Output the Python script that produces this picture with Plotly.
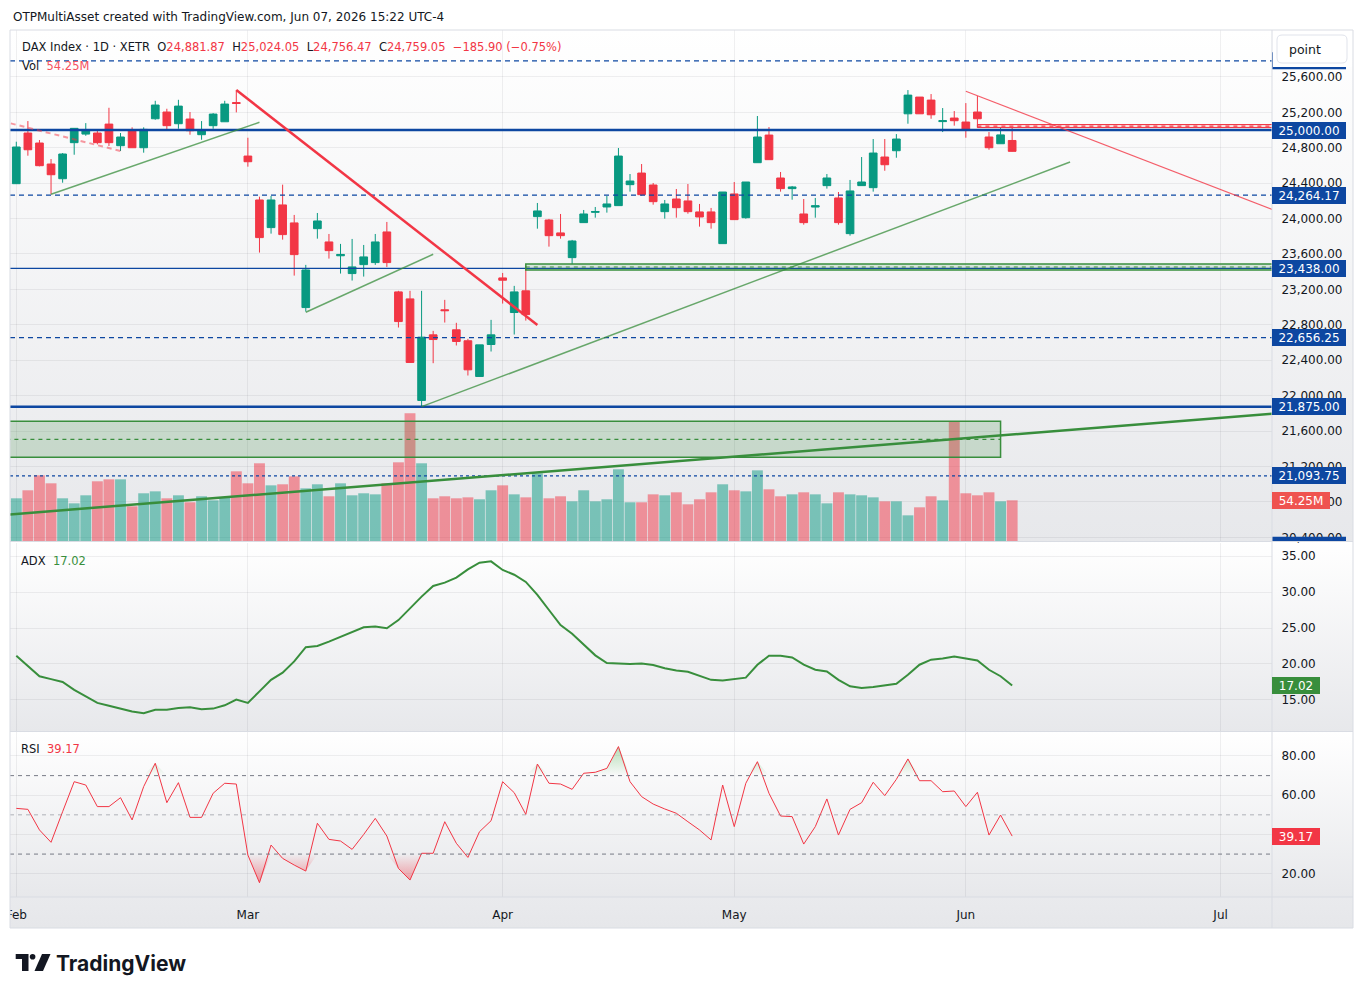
import base64
import numpy as np
import pandas as pd
import plotly.graph_objects as go

# ---------------- data ----------------
holidays = ["2026-04-03", "2026-04-06", "2026-05-01"]
calendar = [d.strftime("%Y-%m-%d") for d in pd.bdate_range("2026-02-02", "2026-07-31")
            if d.strftime("%Y-%m-%d") not in holidays]

open_ = [24394, 24966, 24853, 24616, 24450, 24857, 24954, 24966, 25067, 24823,
         25000, 24800, 25127, 25203, 25071, 25124, 24947, 25049, 25093, 25310,
         24706, 24210, 23898, 24154, 23951, 22995, 23886, 23736, 23580, 23379,
         23480, 23503, 23849, 23172, 23093, 21946, 22687, 22970, 22744, 22620,
         22217, 22578, 23330, 22939, 23184, 24022, 23984, 23838, 23559, 23954,
         24070, 24131, 24146, 24383, 24514, 24379, 24078, 24221, 24199, 24075,
         24075, 23717, 24278, 24010, 24631, 24943, 24458, 24338, 24052, 24130,
         24372, 24233, 23830, 24372, 24349, 24695, 24766, 25183, 25372, 25338,
         25095, 25135, 25090, 25203, 24921, 24845, 24881.87]
high = [24868, 25101, 24887, 24672, 24740, 25020, 25078, 25011, 25251, 24966,
        25030, 25030, 25330, 25240, 25341, 25203, 25101, 25191, 25330, 25450,
        24913, 24247, 24255, 24383, 24041, 23477, 24063, 23826, 23714, 23770,
        23702, 23826, 23962, 23184, 23184, 23184, 22732, 23082, 22823, 22642,
        22574, 22856, 23386, 23240, 23465, 24176, 23996, 24052, 23759, 24097,
        24131, 24255, 24797, 24503, 24616, 24402, 24210, 24334, 24390, 24165,
        24120, 24300, 24413, 24413, 25158, 25033, 24526, 24368, 24221, 24233,
        24503, 24300, 24436, 24695, 24898, 24898, 24954, 25451, 25372, 25406,
        25248, 25214, 25304, 25383, 24977, 25022, 25024.05]
low = [24390, 24710, 24590, 24274, 24405, 24721, 24935, 24838, 24819, 24763,
       24800, 24744, 25116, 24992, 25014, 24947, 24890, 25014, 25093, 25199,
       24586, 23616, 23830, 23762, 23356, 22950, 23773, 23548, 23379, 23300,
       23345, 23477, 23454, 22770, 22375, 21880, 22367, 22826, 22567, 22228,
       22217, 22499, 23040, 22691, 22848, 23886, 23683, 23773, 23485, 23954,
       24010, 24067, 24146, 24304, 24258, 24157, 23999, 24010, 24055, 23909,
       23886, 23717, 23988, 23999, 24631, 24665, 24304, 24213, 23931, 24010,
       24338, 23931, 23807, 24372, 24304, 24540, 24687, 25071, 25183, 25127,
       24977, 25049, 24913, 25026, 24777, 24845, 24756.47]
close = [24808, 24777, 24597, 24495, 24729, 25019, 25000, 24857, 24857, 24921,
         24800, 25007, 25282, 25049, 25270, 24992, 24988, 25180, 25293, 25300,
         24642, 23785, 24210, 23819, 23593, 23420, 23973, 23638, 23595, 23454,
         23567, 23736, 23503, 22837, 22375, 22661, 22634, 22960, 22612, 22292,
         22574, 22687, 23304, 23172, 22916, 24086, 23807, 23807, 23747, 24052,
         24080, 24165, 24706, 24424, 24270, 24191, 24165, 24123, 24078, 24018,
         23954, 24300, 23988, 24413, 24921, 24665, 24338, 24357, 23954, 24145,
         24458, 23954, 24312, 24413, 24740, 24608, 24898, 25394, 25183, 25172,
         25105, 25105, 25003, 25127, 24800, 24944.95, 24759.05]
volume_m = [56.9, 67.6, 87.6, 76.9, 56.9, 50.2, 60.9, 79.6, 82.2, 82.2,
            46.2, 63.6, 66.2, 56.9, 60.9, 51.6, 59.6, 54.2, 58.2, 92.9,
            76.9, 103.6, 74.2, 75.6, 86.2, 70.2, 75.6, 59.6, 76.9, 60.9,
            63.6, 62.2, 76.9, 104.9, 170.2, 103.6, 56.9, 59.6, 56.9, 58.2,
            55.6, 67.6, 74.2, 62.2, 58.2, 90.2, 56.9, 59.6, 52.9, 67.6,
            52.9, 55.6, 95.6, 51.6, 51.6, 62.2, 60.9, 64.9, 48.9, 55.6,
            64.9, 75.6, 67.6, 66.2, 94.2, 68.9, 59.6, 62.2, 64.9, 62.2,
            50.2, 64.9, 62.2, 60.9, 58.2, 52.9, 52.9, 34.2, 44.9, 59.6,
            54.2, 159.6, 63.6, 60.9, 64.9, 52.9, 54.25]
adx = [21.14, 19.67, 18.3, 17.9, 17.5, 16.4, 15.5, 14.6, 14.2, 13.8,
       13.4, 13.15, 13.65, 13.65, 13.9, 13.98, 13.7, 13.8, 14.26, 15.05,
       14.6, 16.2, 17.8, 18.8, 20.36, 22.34, 22.5, 23.1, 23.8, 24.5,
       25.1, 25.2, 24.97, 26.1, 27.75, 29.36, 30.84, 31.3, 32.0, 33.15,
       34.08, 34.26, 33.06, 32.4, 31.4, 29.6, 27.5, 25.4, 24.2, 22.7,
       21.2, 20.13, 20.03, 19.99, 20.08, 19.85, 19.4, 19.1, 18.93, 18.37,
       17.8, 17.7, 17.86, 18.1, 19.9, 21.14, 21.14, 20.9, 19.9, 19.2,
       18.97, 17.8, 16.9, 16.66, 16.8, 17.03, 17.26, 18.5, 19.9, 20.6,
       20.77, 21.05, 20.73, 20.5, 19.2, 18.3, 17.02]
rsi = [53.3, 52.8, 42.3, 36.0, 51.6, 66.9, 65.2, 54.2, 54.2, 58.75,
       47.4, 64.4, 76.3, 56.2, 66.4, 48.7, 48.7, 61.0, 66.1, 65.7,
       29.5, 15.4, 34.6, 27.8, 24.4, 21.35, 45.7, 37.5, 36.65, 32.4,
       40.0, 48.2, 39.2, 22.7, 16.76, 30.4, 30.4, 46.5, 35.5, 28.3,
       41.4, 47.0, 66.9, 61.3, 50.25, 75.9, 66.1, 65.7, 63.0, 71.2,
       71.7, 73.7, 84.8, 66.9, 59.3, 55.5, 53.0, 50.8, 46.5, 42.3,
       37.2, 65.2, 44.0, 66.1, 77.1, 61.0, 49.4, 49.1, 35.1, 44.0,
       58.1, 39.7, 52.8, 56.2, 66.6, 59.8, 68.1, 78.5, 67.4, 67.4,
       61.8, 62.15, 54.2, 61.5, 39.7, 49.9, 39.17]

price_ticks = list(range(20400, 25601, 400))
adx_ticks = [15, 20, 25, 30, 35]
rsi_ticks = [20, 40, 60, 80]
rsi_levels = [70, 50, 30]

# horizontal price levels drawn on the chart
level_solid_thick = [25000, 21875]
level_solid_thin = [23438]
level_dashed = [25781.25, 24264.17, 22656.25, 20312.5]
level_dotted = [21093.75]
level_labels = [25000, 24264.17, 23438, 22656.25, 21875, 21093.75]

# trendlines: (date1, price1, date2, price2)
red_trend = ("2026-02-27", 25452, "2026-04-08", 22798)
red_dash_trend = ("2026-02-02", 25059, "2026-02-13", 24763)
red_thin_trend = ("2026-06-01", 25437, "2026-07-07", 24125)
green_trends = [("2026-02-05", 24274, "2026-03-03", 25087),
                ("2026-03-09", 22942, "2026-03-24", 23597),
                ("2026-03-23", 21876, "2026-06-12", 24638)]
green_long = ("2026-02-02", 20665, "2026-06-25", 21707)
# rectangles: (start date or None, end date or None, low, mid, high)
green_zone = (None, "2026-06-04", 21304, 21507, 21711)
green_band = ("2026-04-07", None, 23420, 23453, 23487)
red_band = ("2026-06-02", None, 25028, 25045, 25062)

# ---------------- geometry ----------------
W, H = 1364, 997
ML, MR, MT, MB = 10, 92, 30, 100
PW = W - ML - MR
PH = H - MT - MB


def px(x):
    return (x - ML) / PW


def py(y):
    return (H - MB - y) / PH


UP = "#089981"
DN = "#F23645"
BLUE = "#0D47A1"
TXT = "#131722"
GREEN = "#388E3C"
GRID = "rgba(42,46,57,0.07)"
FONT = "DejaVu Sans"

n = len(close)
idx = list(range(n))
pos = {d: i for i, d in enumerate(calendar)}
month_idx, month_lbl = [], []
for i, d in enumerate(calendar):
    m = d[:7]
    if not month_lbl or month_lbl[-1][0] != m:
        month_lbl.append((m, pd.Timestamp(d).strftime("%b")))
        month_idx.append(i)
month_txt = [b for _, b in month_lbl]

XR = [-0.544, 108.44]
PR = [20359.2, 26129.3]
VR = [0, 681.3]
AR = [10.69, 36.81]
RR = [8.12, 92.23]
PX_PER_PT = 511 / (PR[1] - PR[0])

main_dom = [py(541), 1.0]
adx_dom = [py(731), py(543)]
rsi_dom = [0.0, py(732)]

fig = go.Figure()

vol_colors = ["rgba(8,153,129,0.5)" if c >= o else "rgba(242,54,69,0.5)" for o, c in zip(open_, close)]
fig.add_trace(go.Bar(x=idx, y=volume_m, marker=dict(color=vol_colors, line=dict(width=0)),
                     xaxis="x", yaxis="y", hoverinfo="skip"))
fig.add_trace(go.Candlestick(x=idx, open=open_, high=high, low=low, close=close,
                             xaxis="x", yaxis="y2", whiskerwidth=0,
                             increasing=dict(line=dict(color=UP, width=1), fillcolor=UP),
                             decreasing=dict(line=dict(color=DN, width=1), fillcolor=DN),
                             hoverinfo="skip"))
fig.add_trace(go.Scatter(x=idx, y=adx, mode="lines", line=dict(color=GREEN, width=2),
                         xaxis="x2", yaxis="y3", hoverinfo="skip"))

r = np.array(rsi)
fig.add_trace(go.Scatter(x=idx, y=[30] * n, mode="lines", line=dict(width=0), xaxis="x3", yaxis="y4", hoverinfo="skip"))
fig.add_trace(go.Scatter(x=idx, y=np.minimum(r, 30), mode="lines", line=dict(width=0), fill="tonexty",
                         fillgradient=dict(type="vertical", start=0, stop=30,
                                           colorscale=[[0, "rgba(242,54,69,1)"], [1, "rgba(242,54,69,0)"]]),
                         xaxis="x3", yaxis="y4", hoverinfo="skip"))
fig.add_trace(go.Scatter(x=idx, y=[70] * n, mode="lines", line=dict(width=0), xaxis="x3", yaxis="y4", hoverinfo="skip"))
fig.add_trace(go.Scatter(x=idx, y=np.maximum(r, 70), mode="lines", line=dict(width=0), fill="tonexty",
                         fillgradient=dict(type="vertical", start=70, stop=100,
                                           colorscale=[[0, "rgba(76,175,80,0)"], [1, "rgba(76,175,80,0.85)"]]),
                         xaxis="x3", yaxis="y4", hoverinfo="skip"))
fig.add_trace(go.Scatter(x=idx, y=rsi, mode="lines", line=dict(color=DN, width=1),
                         xaxis="x3", yaxis="y4", hoverinfo="skip"))

shapes = []


def seg(t, ext_l=False, ext_r=False):
    d1, p1, d2, p2 = t
    i1, i2 = pos[d1], pos[d2]
    s = (p2 - p1) / (i2 - i1)
    xa = -5 if ext_l else i1
    xb = 200 if ext_r else i2
    return xa, p1 + s * (xa - i1), xb, p1 + s * (xb - i1)


def add_line(t, color, width, dash="solid", ext_l=False, ext_r=False):
    x0, y0, x1, y1 = seg(t, ext_l, ext_r)
    shapes.append(dict(type="line", xref="x", yref="y2", x0=x0, y0=y0, x1=x1, y1=y1,
                       line=dict(color=color, width=width, dash=dash), layer="above"))


for v in level_solid_thick:
    shapes.append(dict(type="line", xref="paper", yref="y2", x0=0, x1=1, y0=v, y1=v, line=dict(color=BLUE, width=2.5)))
for v in level_solid_thin:
    shapes.append(dict(type="line", xref="paper", yref="y2", x0=0, x1=1, y0=v, y1=v, line=dict(color=BLUE, width=1.2)))
for v in level_dashed:
    shapes.append(dict(type="line", xref="paper", yref="y2", x0=0, x1=1, y0=v, y1=v, line=dict(color=BLUE, width=1.2, dash="5px,4px")))
for v in level_dotted:
    shapes.append(dict(type="line", xref="paper", yref="y2", x0=0, x1=1, y0=v, y1=v, line=dict(color=BLUE, width=1.2, dash="3px,3px")))


def add_band(b, line_c, fill_c, lw=1.5):
    d0, d1, lo, mid, hi = b
    x0 = -5 if d0 is None else pos[d0]
    x1 = 200 if d1 is None else pos[d1]
    shapes.append(dict(type="rect", xref="x", yref="y2", x0=x0, x1=x1, y0=lo, y1=hi,
                       fillcolor=fill_c, line=dict(color=line_c, width=lw)))
    shapes.append(dict(type="line", xref="x", yref="y2", x0=x0, x1=x1, y0=mid, y1=mid,
                       line=dict(color=line_c, width=1.2, dash="4px,4px")))


add_band(green_zone, GREEN, "rgba(56,142,60,0.2)")
add_band(green_band, GREEN, "rgba(56,142,60,0.15)")
add_band(red_band, DN, "rgba(242,54,69,0.15)", lw=1)

add_line(green_long, GREEN, 2.5, ext_l=True, ext_r=True)
for t in green_trends:
    add_line(t, "rgba(56,142,60,0.75)", 1.5)
add_line(red_trend, DN, 2.5)
add_line(red_dash_trend, "rgba(242,54,69,0.5)", 2, dash="5px,4px", ext_l=True)
add_line(red_thin_trend, "rgba(242,54,69,0.8)", 1.2, ext_r=True)

for v in rsi_levels:
    shapes.append(dict(type="line", xref="paper", yref="y4", x0=0, x1=1, y0=v, y1=v,
                       line=dict(color="#787B86" if v != 50 else "rgba(120,123,134,0.55)", width=1, dash="4px,4px")))

# partially hidden price labels (drawn as shapes so the button / pane edge covers them)
HALF = 8.5 / PX_PER_PT
for v in (level_dashed[0], level_dashed[-1]):
    shapes.append(dict(type="rect", xref="paper", yref="y2", x0=1.0, x1=px(1346), y0=v - HALF, y1=v + HALF,
                       fillcolor=BLUE, line=dict(width=0)))


def rect_px(x0, y0, x1, y1, fill, lc=None, lw=0, layer="above"):
    shapes.append(dict(type="rect", xref="paper", yref="paper", x0=px(x0), x1=px(x1), y0=py(y1), y1=py(y0),
                       fillcolor=fill, line=dict(color=lc or fill, width=lw), layer=layer))


def line_px(x0, y0, x1, y1, color, w=1):
    shapes.append(dict(type="line", xref="paper", yref="paper", x0=px(x0), x1=px(x1), y0=py(y0), y1=py(y1),
                       line=dict(color=color, width=w)))


def path_px(pts, fill):
    d = "M " + " L ".join(f"{px(a):.5f},{py(b):.5f}" for a, b in pts) + " Z"
    shapes.append(dict(type="path", xref="paper", yref="paper", path=d, fillcolor=fill, line=dict(width=0)))


# cover above price axis + button
rect_px(1273, 30.5, 1352.5, 67, "white")
x0b, y0b, x1b, y1b, rr = 1277, 35, 1347, 63, 5
rx, ry = rr / PW, rr / PH
X0, X1, Y0, Y1 = px(x0b), px(x1b), py(y1b), py(y0b)
btn = (f"M {X0+rx},{Y1} L {X1-rx},{Y1} Q {X1},{Y1} {X1},{Y1-ry} L {X1},{Y0+ry} Q {X1},{Y0} {X1-rx},{Y0} "
       f"L {X0+rx},{Y0} Q {X0},{Y0} {X0},{Y0+ry} L {X0},{Y1-ry} Q {X0},{Y1} {X0+rx},{Y1} Z")
shapes.append(dict(type="path", xref="paper", yref="paper", path=btn, fillcolor="white",
                   line=dict(color="#E0E3EB", width=1)))

# cover for clipped first time label
rect_px(0, 897, 10, 930, "white")
# frame & separators
SEP = "#D9DCE3"
line_px(10, 541.5, 1353, 541.5, SEP)
line_px(10, 731.5, 1353, 731.5, SEP)
line_px(10, 897, 1353, 897, SEP)
line_px(1272, 30, 1272, 928, SEP)
shapes.append(dict(type="rect", xref="paper", yref="paper", x0=px(10), x1=px(1353), y0=py(928), y1=py(30),
                   line=dict(color=SEP, width=1), fillcolor="rgba(0,0,0,0)"))

# TradingView logo mark
path_px([(15.7, 954), (28.5, 954), (28.5, 971), (22, 971), (22, 959), (15.7, 959)], TXT)
shapes.append(dict(type="circle", xref="paper", yref="paper", x0=px(29.8), x1=px(35.4), y0=py(959.6), y1=py(954),
                   fillcolor=TXT, line=dict(width=0)))
path_px([(34.5, 971), (42, 954), (50.5, 954), (43, 971)], TXT)


def grad(top, bottom):
    svg = ('<svg xmlns="http://www.w3.org/2000/svg" width="4" height="100" viewBox="0 0 4 100" '
           'preserveAspectRatio="none"><defs><linearGradient id="g" x1="0" y1="0" x2="0" y2="1">'
           f'<stop offset="0" stop-color="{top}"/><stop offset="1" stop-color="{bottom}"/>'
           '</linearGradient></defs><rect x="0" y="0" width="4" height="100" fill="url(#g)"/></svg>')
    return "data:image/svg+xml;base64," + base64.b64encode(svg.encode()).decode()


images = []
for (t, b) in [(30, 541.5), (541.5, 731.5), (731.5, 897)]:
    images.append(dict(source=grad("#FFFFFF", "#E7E8EB"), xref="paper", yref="paper", x=px(10), y=py(t),
                       sizex=(1353 - 10) / PW, sizey=(b - t) / PH, xanchor="left", yanchor="top",
                       sizing="stretch", layer="below"))
images.append(dict(source=grad("#E9EAED", "#E6E7EA"), xref="paper", yref="paper", x=px(10), y=py(897),
                   sizex=(1353 - 10) / PW, sizey=31 / PH, xanchor="left", yanchor="top",
                   sizing="stretch", layer="below"))

# ---------------- annotations ----------------
ann = []


def txt(x, y, text, size=12, color=TXT, family=FONT, weight=None):
    f = dict(family=family, size=size, color=color)
    if weight:
        f["weight"] = weight
    ann.append(dict(x=px(x), y=py(y), xref="paper", yref="paper", xanchor="left", yanchor="middle",
                    text=text, showarrow=False, font=f))


def lab(v, yref, text, bg, w):
    ann.append(dict(x=1.0, xref="paper", y=v, yref=yref, xanchor="left", yanchor="middle", text=text,
                    showarrow=False, bgcolor=bg, width=w, height=13, borderpad=2, borderwidth=0,
                    align="center", font=dict(family=FONT, size=12, color="white")))


txt(11, 17, "OTPMultiAsset created with TradingView.com, Jun 07, 2026 15:22 UTC-4")
chg = close[-1] - close[-2]
pct = chg / close[-2] * 100


def fmt(v):
    return f"{v:,.2f}".replace("-", "−")


sp = "&nbsp;&nbsp;"
red = lambda s: f"<span style='color:{DN}'>{s}</span>"
legend = ("DAX Index · 1D · XETR" + sp + "O" + red(fmt(open_[-1])) + sp + "H" + red(fmt(high[-1])) + sp +
          "L" + red(fmt(low[-1])) + sp + "C" + red(fmt(close[-1])) + sp +
          red(f"{fmt(chg)} ({fmt(pct)}%)"))
txt(20, 47, legend, size=11.5)
txt(20, 66, f"Vol&nbsp;&nbsp;<span style='color:#F7525F'>{volume_m[-1]:.2f}M</span>", size=11.5)
txt(19, 561, f"ADX&nbsp;&nbsp;<span style='color:{GREEN}'>{adx[-1]:.2f}</span>", size=11.5)
txt(19, 749, f"RSI&nbsp;&nbsp;<span style='color:{DN}'>{rsi[-1]:.2f}</span>", size=11.5)
txt(1287, 49, "point", size=12.5)
txt(54, 963, "TradingView", size=21, family="Inter", weight=700)

for v in level_labels:
    lab(v, "y2", f"{v:,.2f}", BLUE, 70)
lab(volume_m[-1], "y", f"{volume_m[-1]:.2f}M", "#EF5350", 54)
lab(adx[-1], "y3", f"{adx[-1]:.2f}", GREEN, 44)
lab(rsi[-1], "y4", f"{rsi[-1]:.2f}", DN, 44)

tickfont = dict(family=FONT, size=12, color=TXT)
xcommon = dict(range=XR, tickvals=month_idx, ticktext=month_txt, showgrid=True, gridcolor=GRID,
               zeroline=False, showline=False, fixedrange=True)
ycommon = dict(side="right", showgrid=True, gridcolor=GRID, zeroline=False, showline=False,
               ticks="outside", ticklen=6, tickcolor="rgba(0,0,0,0)", tickfont=tickfont, fixedrange=True)

fig.update_layout(
    width=W, height=H, margin=dict(l=ML, r=MR, t=MT, b=MB, pad=0, autoexpand=False),
    paper_bgcolor="white", plot_bgcolor="rgba(0,0,0,0)", showlegend=False,
    boxgap=0.335, boxgroupgap=0, bargap=0.06,
    xaxis=dict(domain=[0, 1], anchor="y", showticklabels=False, rangeslider=dict(visible=False), **xcommon),
    xaxis2=dict(domain=[0, 1], anchor="y3", matches="x", showticklabels=False, **xcommon),
    xaxis3=dict(domain=[0, 1], anchor="y4", matches="x", showticklabels=True, ticks="outside", ticklen=7,
                tickcolor="rgba(0,0,0,0)", tickfont=tickfont, **xcommon),
    yaxis=dict(domain=main_dom, range=VR, visible=False, fixedrange=True),
    yaxis2=dict(overlaying="y", anchor="x", range=PR, tickvals=price_ticks,
                ticktext=[f"{v:,.2f}" for v in price_ticks], **ycommon),
    yaxis3=dict(domain=adx_dom, anchor="x2", range=AR, tickvals=adx_ticks,
                ticktext=[f"{v:.2f}" for v in adx_ticks], **ycommon),
    yaxis4=dict(domain=rsi_dom, anchor="x3", range=RR, tickvals=rsi_ticks,
                ticktext=[f"{v:.2f}" for v in rsi_ticks], **ycommon),
    shapes=shapes, annotations=ann, images=images,
)

fig.write_html("out.html")
